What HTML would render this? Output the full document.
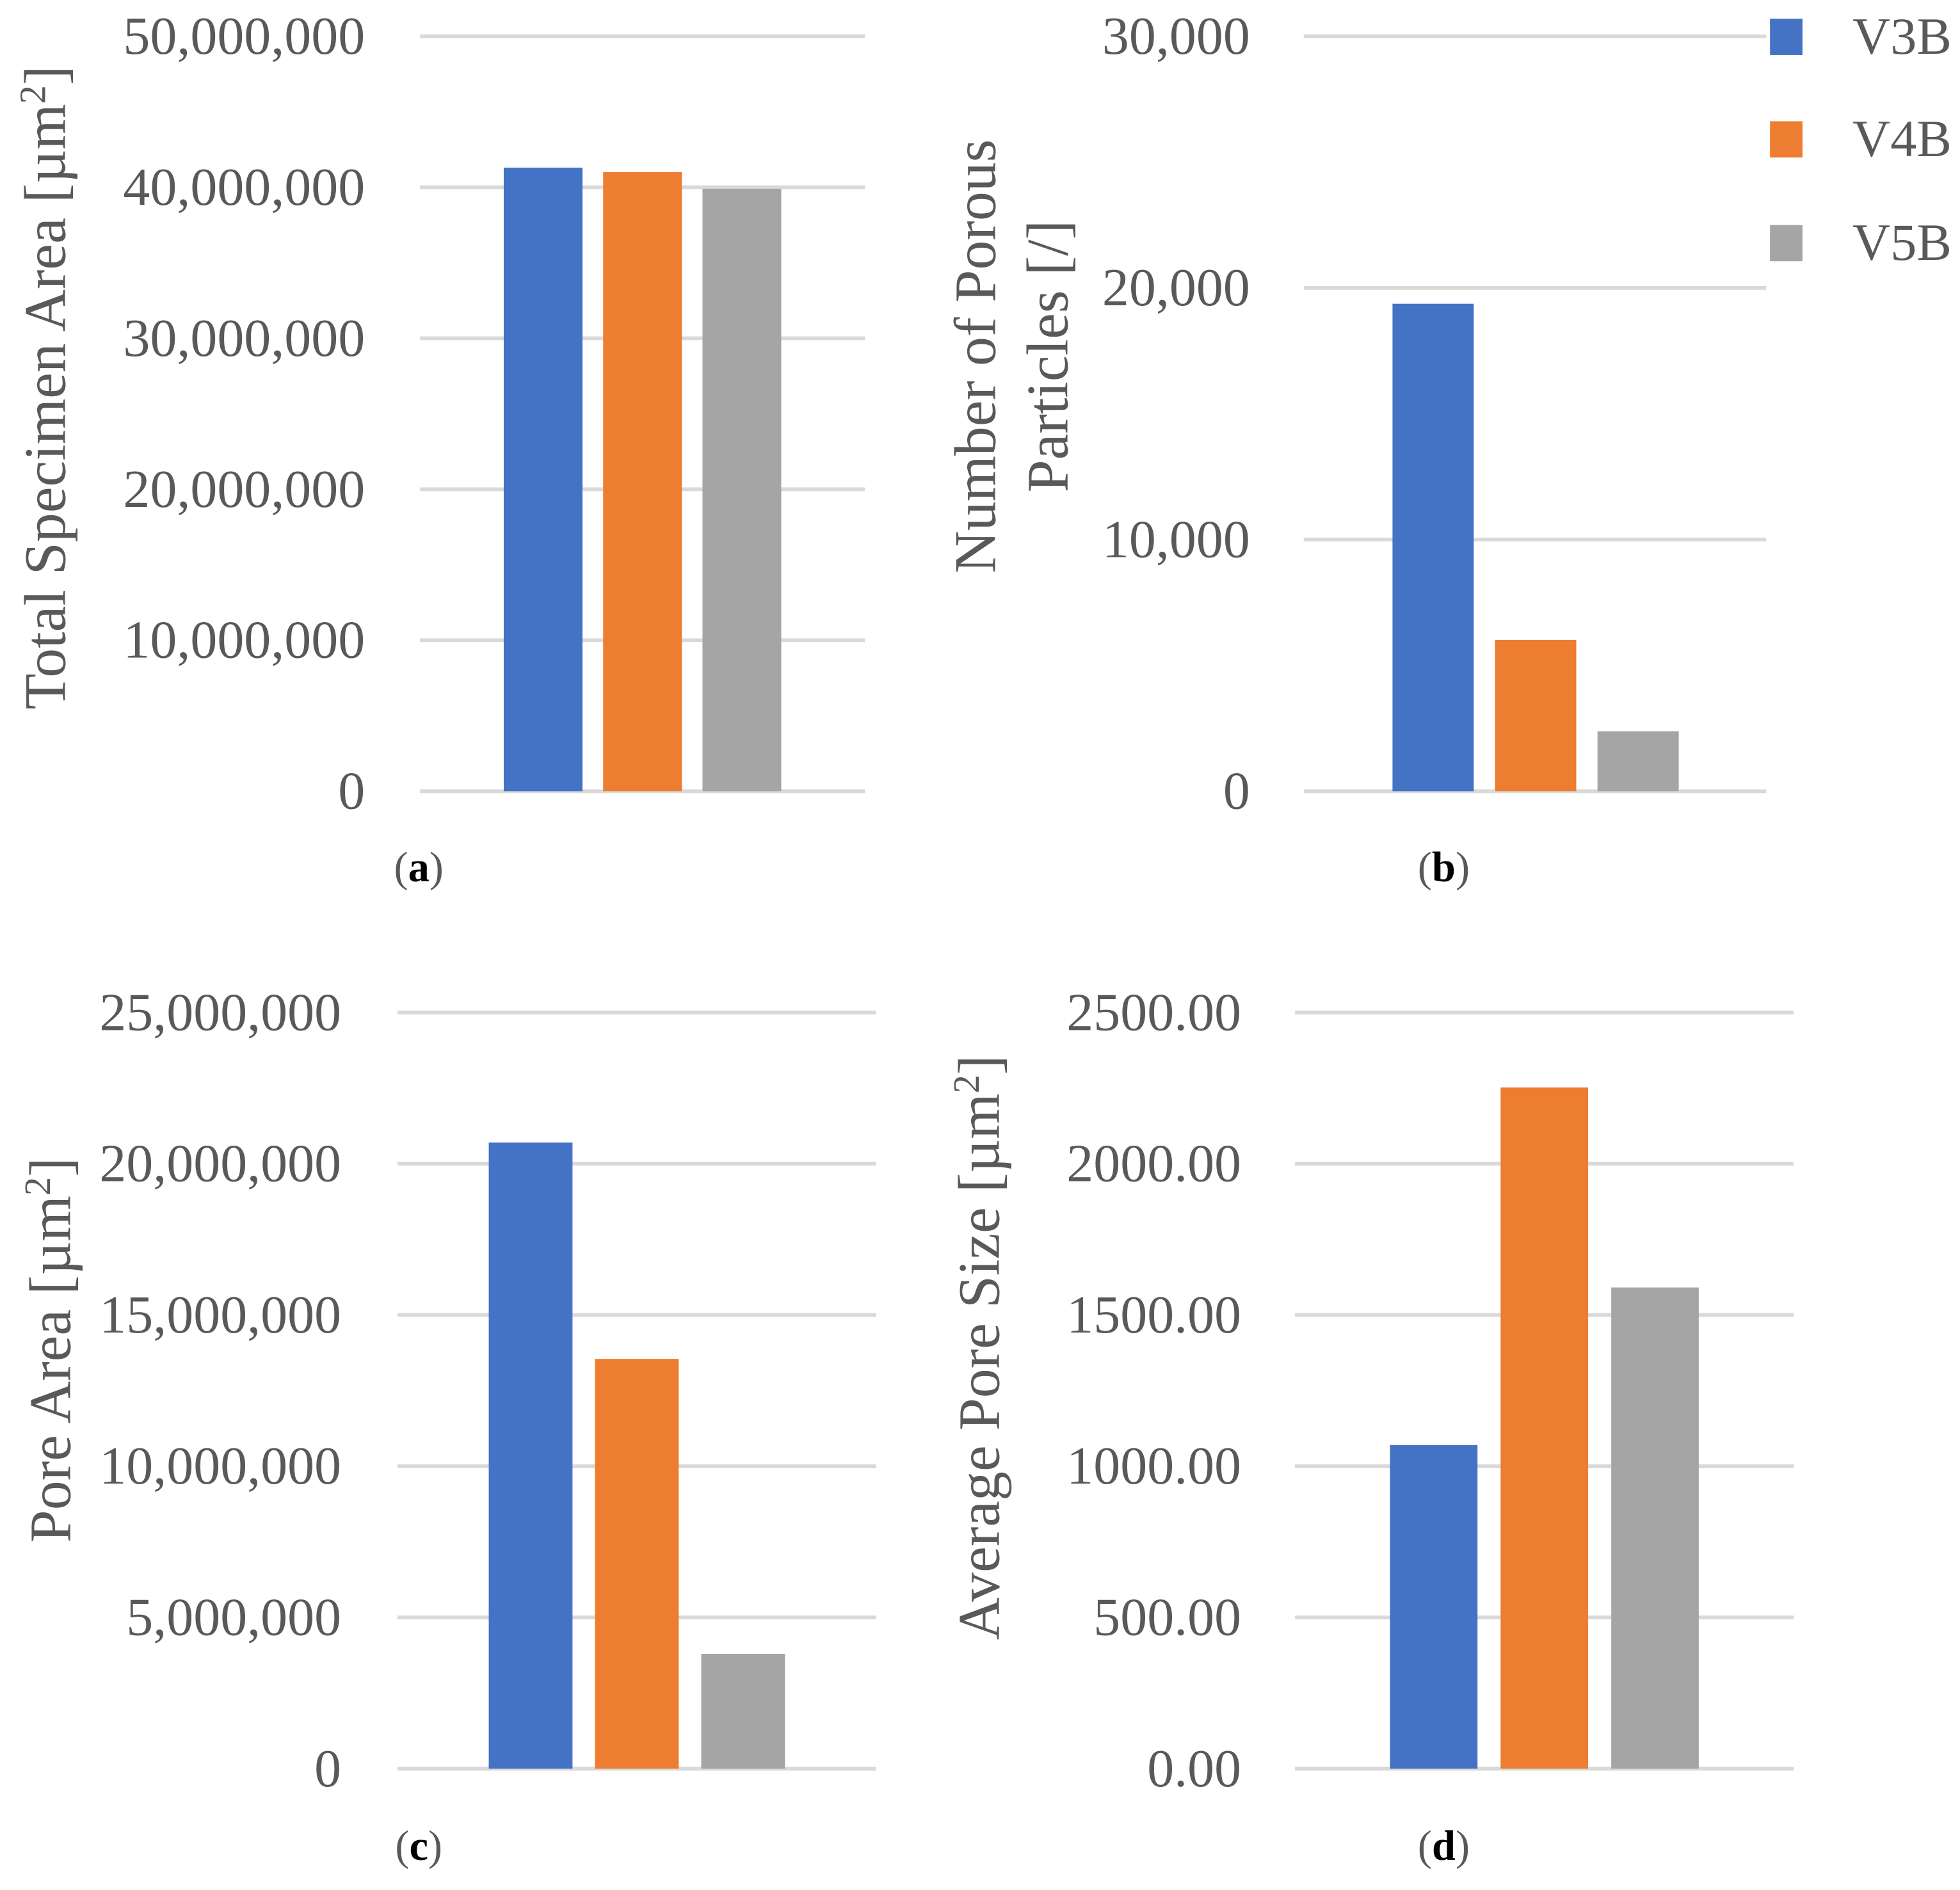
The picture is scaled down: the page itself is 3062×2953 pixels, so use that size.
<!DOCTYPE html>
<html><head><meta charset="utf-8"><style>
html,body{margin:0;padding:0;background:#fff;}
svg{display:block;}
text{font-family:"Liberation Serif",serif;fill:#595959;}
</style></head><body>
<svg id="fig" width="3062" height="2953" viewBox="0 0 1568 1512" preserveAspectRatio="none" xmlns="http://www.w3.org/2000/svg">
<g id="legend">
<rect x="1416" y="15" width="26" height="29" fill="#4472C4"/>
<text x="1482" y="43" font-size="42">V3B</text>
<rect x="1416" y="97" width="26" height="29" fill="#ED7D31"/>
<text x="1482" y="125" font-size="42">V4B</text>
<rect x="1416" y="180" width="26" height="29" fill="#A5A5A5"/>
<text x="1482" y="208" font-size="42">V5B</text>
</g>
</svg>
<script>
const series = ['V3B','V4B','V5B'];
const colors = ['#4472C4','#ED7D31','#A5A5A5'];
const valuesA = [41300000, 41000000, 39900000];
const valuesB = [19370, 6010, 2385];
const valuesC = [20700000, 13550000, 3800000];
const valuesD = [1070, 2252, 1591];
const ticksA = ['0','10,000,000','20,000,000','30,000,000','40,000,000','50,000,000'];
const ticksB = ['0','10,000','20,000','30,000'];
const ticksC = ['0','5,000,000','10,000,000','15,000,000','20,000,000','25,000,000'];
const ticksD = ['0.00','500.00','1000.00','1500.00','2000.00','2500.00'];
const NS='http://www.w3.org/2000/svg';
const svg=document.getElementById('fig');
function mk(tag,attrs,parent){const e=document.createElementNS(NS,tag);for(const k in attrs)e.setAttribute(k,attrs[k]);parent.appendChild(e);return e;}
function panel(p){
  const g=mk('g',{},svg);
  
  
  const max=p.max, n=p.ticks.length-1;
  const y=v=>p.y0-(v/max)*(p.y0-p.yTop);
  p.ticks.forEach((t,i)=>{
    const yy=y(max*i/n);
    const l=mk('line',{x1:p.gx0,x2:p.gx1,y1:yy,y2:yy,stroke:'#D9D9D9','stroke-width':3},g);
    
    
    const tx=mk('text',{x:p.lx,y:yy+14,'font-size':43,'text-anchor':'end'},g);
    tx.textContent=t;
    
    
  });
  p.values.forEach((v,i)=>{
    const x=p.bx+i*p.step;
    const r=mk('rect',{x:x,y:y(v),width:p.bw,height:p.y0-y(v),fill:colors[i]},g);
    
    
  });
  p.title.forEach((line,i)=>{
    const tx=mk('text',{x:0,y:0,'font-size':47,'text-anchor':'middle',transform:'translate('+line[0]+','+p.ty+') rotate(-90)'},g);
    tx.innerHTML=line[1];
    
    
  });
  const c=mk('text',{x:p.cx,y:p.cy,'font-size':34,'text-anchor':'middle'},g);
  c.innerHTML='(<tspan font-weight="bold" fill="#000">'+p.id+'</tspan>)';
  c.setAttribute('fill','#000');
  
  
}
panel({id:'a',values:valuesA,ticks:ticksA,max:50000000,y0:633,yTop:29,gx0:336,gx1:692,lx:292,bx:403,bw:63,step:79.5,
  title:[[52,'Total Specimen Area [µm<tspan dy="-16" font-size="30">2</tspan><tspan dy="16">]</tspan>']],ty:310,cx:335,cy:705});
panel({id:'b',values:valuesB,ticks:ticksB,max:30000,y0:633,yTop:29,gx0:1043,gx1:1413,lx:1000,bx:1114,bw:65,step:82,
  title:[[796,'Number of Porous'],[854,'Particles [/]']],ty:285,cx:1155,cy:705});
panel({id:'c',values:valuesC,ticks:ticksC,max:25000000,y0:1415,yTop:810,gx0:318,gx1:701,lx:273,bx:391,bw:67,step:85,
  title:[[56,'Pore Area [µm<tspan dy="-16" font-size="30">2</tspan><tspan dy="16">]</tspan>']],ty:1080,cx:335,cy:1488});
panel({id:'d',values:valuesD,ticks:ticksD,max:2500,y0:1415,yTop:810,gx0:1036,gx1:1435,lx:993,bx:1112,bw:70,step:88.5,
  title:[[799,'Average Pore Size [µm<tspan dy="-16" font-size="30">2</tspan><tspan dy="16">]</tspan>']],ty:1078,cx:1155,cy:1488});
</script>
</body></html>
